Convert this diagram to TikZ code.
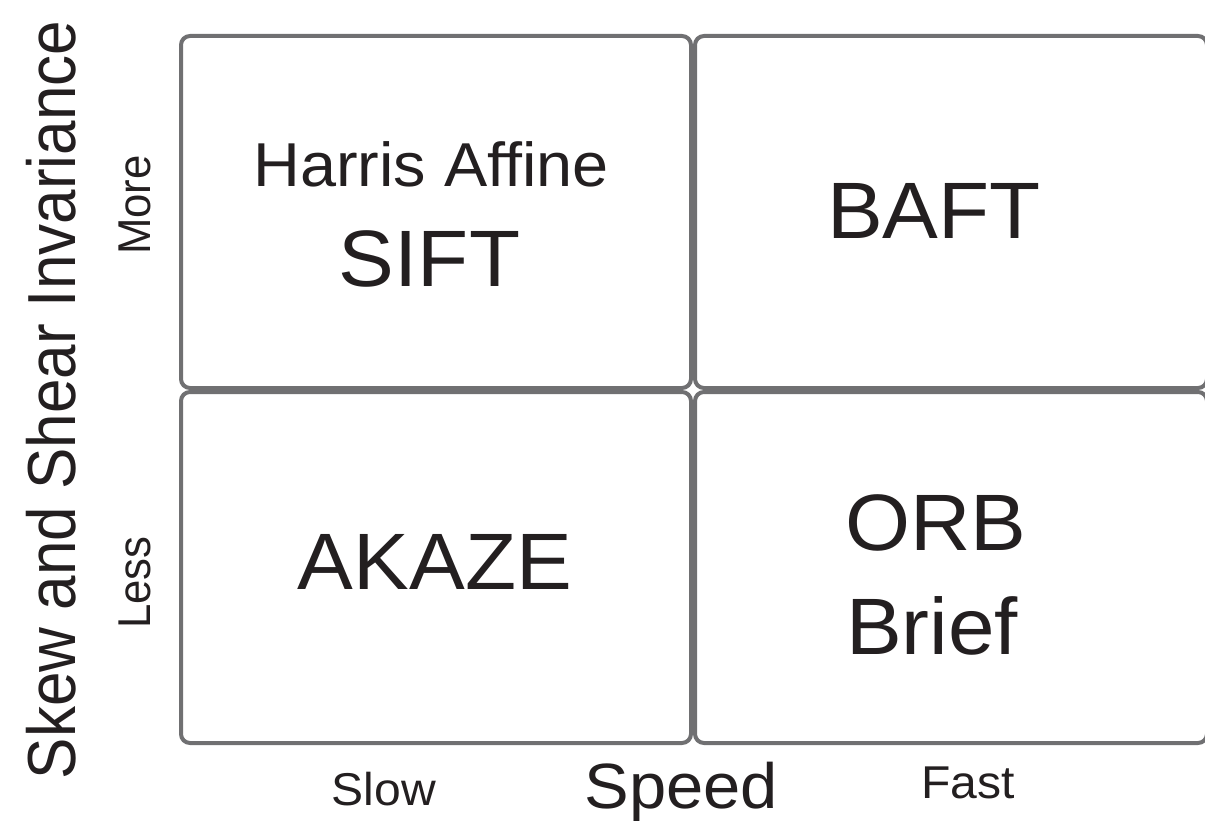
\documentclass[tikz,border=0pt]{standalone}
\usepackage{fontspec}
\setmainfont{Liberation Sans}
\definecolor{boxgray}{RGB}{112,112,114}
\definecolor{ink}{RGB}{35,31,32}
\newcommand{\qwide}[1]{\scalebox{1.045}[1]{#1}}
\newcommand{\qslim}[1]{\scalebox{0.95}[1]{#1}}
\begin{document}
\begin{tikzpicture}[x=1pt,y=-1pt,
  quad/.style={draw=boxgray, line width=4pt, rounded corners=9pt, fill=white, inner sep=0pt, outer sep=0pt},
  big/.style={font=\fontsize{80}{96}\selectfont, text=ink, anchor=base, inner sep=0pt},
  mid/.style={font=\fontsize{62}{74}\selectfont, text=ink, anchor=base, inner sep=0pt},
  tick/.style={font=\fontsize{46}{55}\selectfont, text=ink, anchor=base, inner sep=0pt},
  axis/.style={font=\fontsize{64}{76}\selectfont, text=ink, anchor=base, inner sep=0pt}]
\useasboundingbox[fill=white] (0,0) rectangle (1205,821);
% quadrants
\node[quad, minimum width=510pt, minimum height=352pt] (tl) at (436,212) {};
\node[quad, minimum width=512pt, minimum height=352pt] (tr) at (951,212) {};
\node[quad, minimum width=510pt, minimum height=351pt] (bl) at (436,567.5) {};
\node[quad, minimum width=512pt, minimum height=351pt] (br) at (951,567.5) {};
% quadrant labels
\node[mid] (harris) at (431,187) {\qwide{Harris Affine}};
\node[big] (sift) at (429.5,287) {\qwide{SIFT}};
\node[big] (baft) at (934,239) {\qwide{BAFT}};
\node[big] (akaze) at (435,589) {\qwide{AKAZE}};
\node[big] (orb) at (936,550) {\qwide{ORB}};
\node[big] (brief) at (932,654) {\qwide{Brief}};
% axis labels
\node[axis] (speed) at (681.5,808) {\qwide{Speed}};
\node[tick] (slow) at (384,805) {\qwide{Slow}};
\node[tick] (fast) at (968,798) {\qwide{Fast}};
\node[axis, font=\fontsize{68}{80}\selectfont, rotate=90] (skew) at (75,400) {\scalebox{0.912}[1]{Skew and Shear Invariance}};
\node[tick, rotate=90] (more) at (150,205) {\qslim{More}};
\node[tick, rotate=90] (less) at (150,582.5) {\qslim{Less}};
\end{tikzpicture}
\end{document}
